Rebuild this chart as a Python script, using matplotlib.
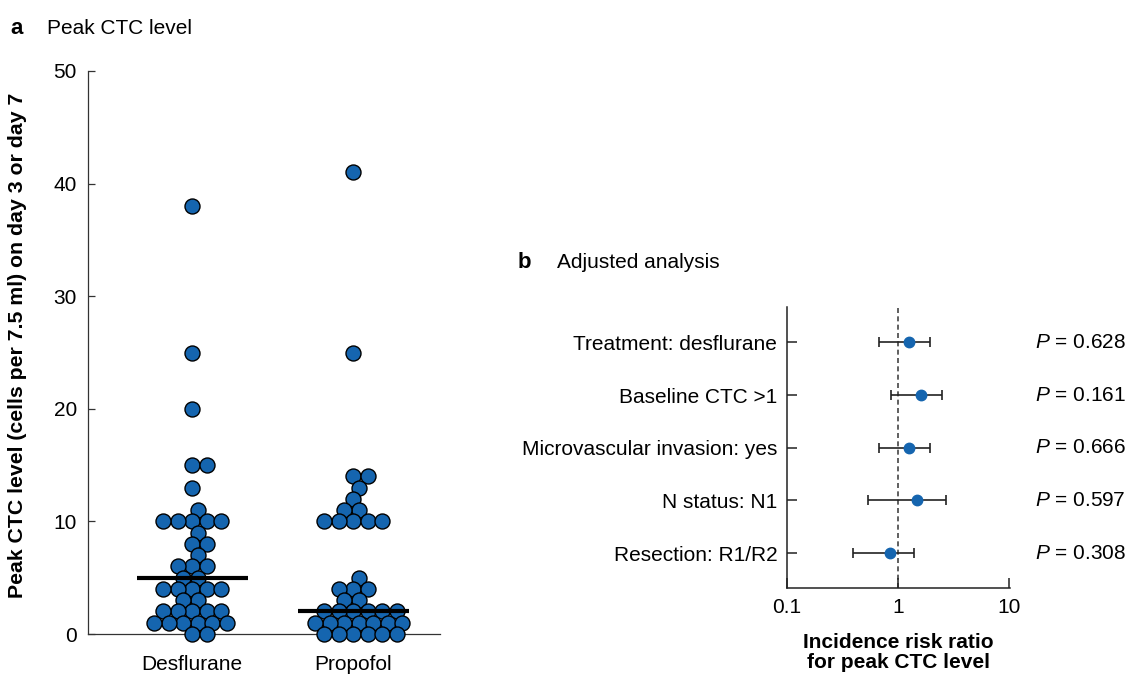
import numpy as np
import matplotlib
matplotlib.use("Agg")
import matplotlib.pyplot as plt
import matplotlib.transforms as mtransforms

# panel a: peak CTC level per patient
groups = ["Desflurane", "Propofol"]
desflurane = [38, 25, 20, 15, 15, 13, 11, 10, 10, 10, 10, 10, 9, 8, 8, 7,
              6, 6, 6, 5, 5, 4, 4, 4, 4, 4, 3, 3, 2, 2, 2, 2, 2,
              1, 1, 1, 1, 1, 1, 0, 0]
propofol = [41, 25, 14, 14, 13, 12, 11, 11, 10, 10, 10, 10, 10, 5, 4, 4, 4,
            3, 3, 2, 2, 2, 2, 2, 2, 1, 1, 1, 1, 1, 1, 1,
            0, 0, 0, 0, 0, 0]
medians = [5, 2]

# panel b: adjusted analysis
factors = ["Treatment: desflurane", "Baseline CTC >1",
           "Microvascular invasion: yes", "N status: N1", "Resection: R1/R2"]
irr = [1.25, 1.61, 1.25, 1.49, 0.84]
ci_low = [0.67, 0.86, 0.67, 0.54, 0.39]
ci_high = [1.94, 2.49, 1.94, 2.69, 1.40]
pvals = ["0.628", "0.161", "0.666", "0.597", "0.308"]

blue = "#1565AF"
axcol = "#333333"

plt.rcParams["font.family"] = ["Liberation Sans", "DejaVu Sans"]
plt.rcParams["font.size"] = 15
plt.rcParams["mathtext.fontset"] = "custom"
plt.rcParams["mathtext.rm"] = "Liberation Sans"
plt.rcParams["mathtext.it"] = "Liberation Sans:italic"

W, H = 1131, 676
fig = plt.figure(figsize=(W / 100, H / 100), dpi=100)


def swarm_x(ax, center, values, dmin, ystretch=1.2):
    # greedy beeswarm in pixel space; vertical gaps count a bit more so
    # neighbouring rows may overlap like in the original figure
    pix = ax.transData.transform([(center, v) for v in values])
    order = np.argsort(values, kind="stable")
    placed = []
    xs = np.empty(len(values))
    steps = np.arange(0, 120, 0.5)
    for i in order:
        cx, cy = pix[i]
        for s in steps:
            found = None
            for off in ((s, -s) if s else (0,)):
                ok = all((cx + off - px) ** 2 + ((cy - py) * ystretch) ** 2
                         >= dmin ** 2 for px, py in placed)
                if ok:
                    found = off
                    break
            if found is not None:
                break
        placed.append((cx + found, cy))
        xs[i] = cx + found
    inv = ax.transData.inverted()
    return inv.transform(np.column_stack([xs, pix[:, 1]]))[:, 0]


# ---- panel a
ax1 = fig.add_axes([88 / W, 42 / H, 352 / W, 563 / H])
ax1.set_xlim(-0.646, 1.54)
ax1.set_ylim(0, 50)
for i, vals in enumerate([desflurane, propofol]):
    xs = swarm_x(ax1, i, vals, dmin=14.5)
    ax1.scatter(xs, vals, s=10.8 ** 2, color=blue, edgecolor="black",
                linewidth=1, clip_on=False, zorder=3)
for i, m in enumerate(medians):
    ax1.plot([i - 0.34, i + 0.35], [m, m], color="black", lw=3,
             solid_capstyle="butt", zorder=5, clip_on=False)

ax1.set_xticks(range(len(groups)))
ax1.set_xticklabels(groups)
ax1.set_yticks(range(0, 51, 10))
for s in ["top", "right"]:
    ax1.spines[s].set_visible(False)
for s in ["left", "bottom"]:
    ax1.spines[s].set_linewidth(0.9)
    ax1.spines[s].set_color(axcol)
ax1.tick_params(axis="y", direction="in", length=5, width=0.9,
                color=axcol, pad=8, labelsize=15)
ax1.tick_params(axis="x", length=0, pad=15, labelsize=15)

fig.text(18 / W, 1 - 345 / H,
         "Peak CTC level (cells per 7.5 ml) on day 3 or day 7",
         rotation=90, ha="center", va="center", fontweight="bold",
         fontsize=15.3)
fig.text(10 / W, 1 - 28 / H, "a", fontweight="bold", va="center", fontsize=16)
fig.text(47 / W, 1 - 28 / H, "Peak CTC level", va="center", fontsize=15)

# ---- panel b
ax2 = fig.add_axes([787 / W, 88 / H, 223 / W, 281 / H])
ypos = np.arange(len(factors))[::-1] + 1
irr_a = np.array(irr)
xerr = [irr_a - np.array(ci_low), np.array(ci_high) - irr_a]
ax2.axvline(1, color="#444444", lw=1.2, ls=(0, (3, 2)), zorder=1)
ax2.errorbar(irr_a, ypos, xerr=xerr, fmt="none", ecolor="#222222",
             elinewidth=1.2, capsize=3.8, capthick=1.2, zorder=2)
ax2.plot(irr_a, ypos, "o", ms=7.5, color=blue, zorder=3)

ax2.set_xscale("log")
ax2.set_xlim(0.1, 10.2)
ax2.set_ylim(0.34, 5.67)
ax2.set_xticks([0.1, 1, 10])
ax2.set_xticklabels(["0.1", "1", "10"])
ax2.xaxis.set_minor_locator(matplotlib.ticker.NullLocator())
ax2.set_yticks(ypos)
ax2.set_yticklabels(factors)
for s in ["top", "right"]:
    ax2.spines[s].set_visible(False)
for s in ["left", "bottom"]:
    ax2.spines[s].set_linewidth(1.1)
    ax2.spines[s].set_color("#222222")
ax2.tick_params(axis="both", direction="in", length=7, width=1.1,
                color="#222222", pad=7, labelsize=15)
ax2.set_xlabel("Incidence risk ratio\nfor peak CTC level",
               fontweight="bold", fontsize=15, labelpad=12, linespacing=1.05)

trans = mtransforms.blended_transform_factory(ax2.transAxes, ax2.transData)
for y, p in zip(ypos, pvals):
    ax2.text((1035 - 787) / 223, y, "$P$ = " + p, transform=trans,
             ha="left", va="center", fontsize=15)

fig.text(518 / W, 1 - 262 / H, "b", fontweight="bold", va="center", fontsize=16)
fig.text(557 / W, 1 - 262 / H, "Adjusted analysis", va="center", fontsize=15)

fig.savefig("out.png", dpi=100)
